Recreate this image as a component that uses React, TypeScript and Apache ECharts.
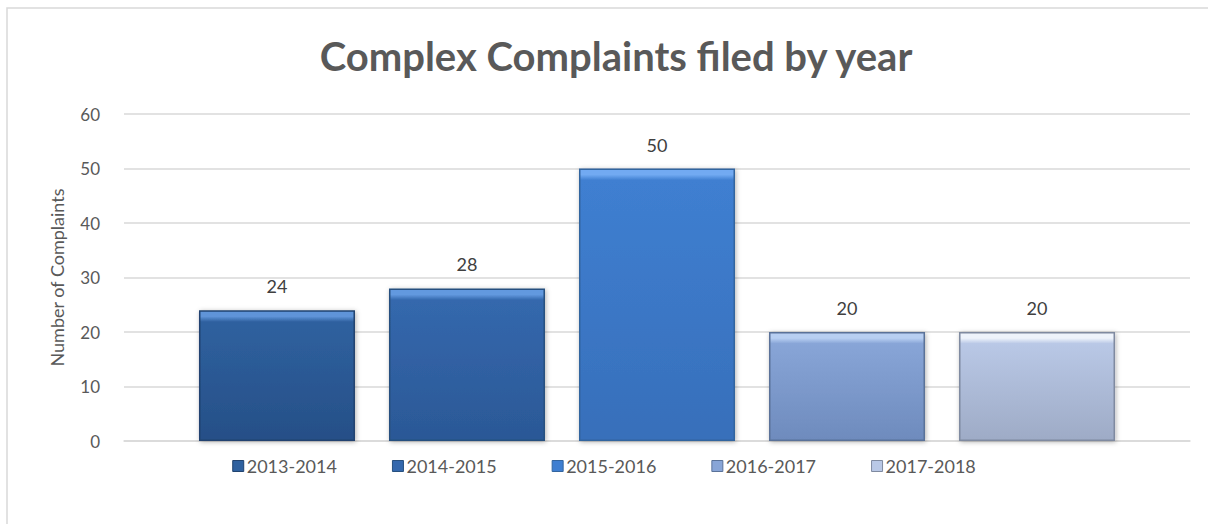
import React, { useEffect, useRef } from "react";
import * as echarts from "echarts";

const categories = ["Complex Complaints"];
const seriesNames = ["2013-2014", "2014-2015", "2015-2016", "2016-2017", "2017-2018"];
const seriesValues = [24, 28, 50, 20, 20];
const yTicks = [0, 10, 20, 30, 40, 50, 60];

const bevel = ["#5f94d8", "#6299df", "#72aaf2", "#b8cff2", "#eef3fb"];
const body = ["#2f619f", "#3468ad", "#3f7fd1", "#88a5d7", "#b9c8e6"];
const bottom = ["#264f87", "#2b5896", "#376fba", "#6e8bbd", "#9eabc6"];
const border = ["#21436f", "#27507f", "#33659f", "#5a7299", "#7f8aa0"];

const FONT = "Lato";

export default function App() {
  const ref = useRef<HTMLDivElement>(null);
  useEffect(() => {
    if (!ref.current) return;
    const chart = echarts.init(ref.current, undefined, { renderer: "svg" });
    const pxPer = (441 - 114) / 60;
    const series = seriesNames.map((name, i) => {
      const h = seriesValues[i] * pxPer;
      const b = Math.min(0.3, 11 / h);
      return {
        name,
        type: "bar",
        data: [seriesValues[i]],
        barWidth: 156,
        barGap: "21.8%",
        itemStyle: {
          color: new echarts.graphic.LinearGradient(0, 0, 0, 1, [
            { offset: 0, color: bevel[i] },
            { offset: b * 0.5, color: bevel[i] },
            { offset: b, color: body[i] },
            { offset: 1, color: bottom[i] },
          ]),
          borderColor: border[i],
          borderWidth: 1.5,
          shadowColor: "rgba(0,0,0,0.3)",
          shadowBlur: 5,
          shadowOffsetX: 1,
          shadowOffsetY: 1,
        },
        label: {
          show: true,
          position: "top",
          distance: 15,
          fontFamily: FONT,
          fontSize: 18,
          color: "#404040",
        },
      };
    });
    chart.setOption({
      animation: false,
      title: {
        text: "Complex Complaints filed by year",
        left: 611,
        textAlign: "center",
        top: 31,
        textStyle: { fontFamily: FONT, fontSize: 40, fontWeight: "bold", color: "#595959" },
      },
      graphic: [
        {
          type: "rect",
          shape: { x: 7, y: 8, width: 1220, height: 540 },
          style: { fill: "none", stroke: "#d9d9d9", lineWidth: 1.5 },
          silent: true,
        },
      ],
      legend: {
        top: 452,
        left: "center",
        icon: "rect",
        itemWidth: 11,
        itemHeight: 11,
        itemGap: 55,
        textStyle: { fontFamily: FONT, fontSize: 18, color: "#595959", padding: [0, 0, 0, -2] },
        data: seriesNames.map((n, i) => ({ name: n, itemStyle: { color: body[i], borderColor: border[i], borderWidth: 1 } })),
      },
      grid: { left: 124, right: 18, top: 114, bottom: 83, containLabel: false },
      xAxis: {
        type: "category",
        data: categories,
        axisLabel: { show: false },
        axisTick: { show: false },
        axisLine: { show: true, lineStyle: { color: "#d9d9d9", width: 1.5 } },
      },
      yAxis: {
        type: "value",
        min: yTicks[0],
        max: yTicks[yTicks.length - 1],
        interval: 10,
        name: "Number of Complaints",
        nameLocation: "middle",
        nameGap: 58,
        nameRotate: 90,
        nameTextStyle: { fontFamily: FONT, fontSize: 18, color: "#595959" },
        axisLabel: { fontFamily: FONT, fontSize: 17, color: "#595959", margin: 24 },
        axisLine: { show: false },
        axisTick: { show: false },
        splitLine: { lineStyle: { color: "#d9d9d9", width: 1.5 } },
      },
      series,
    });
    return () => chart.dispose();
  }, []);
  return <div ref={ref} style={{ width: 1208, height: 524, position: "absolute", left: 0, top: 0 }} />;
}
